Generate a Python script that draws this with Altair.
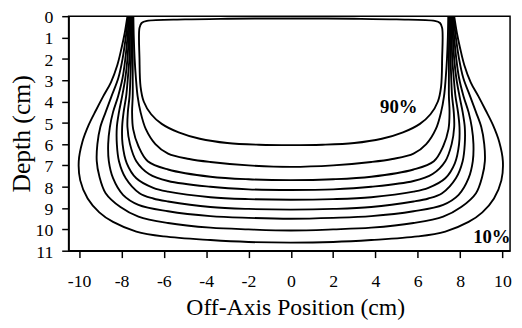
import altair as alt
import pandas as pd

# Isodose levels
levels = ["10%", "20%", "30%", "40%", "50%", "60%", "70%", "80%", "90%"]

# Left half of each isodose line (off-axis position cm, depth cm),
# running from the top of the field to the central axis. The right half is the mirror image.
c10_x = [-7.72, -7.85, -8.0, -8.2, -8.5, -8.86, -9.2, -9.55, -9.85, -10.02, -9.95, -9.6, -9.05, -8.4, -7.3, -6.0, -3.8, -2.0, 0.0]
c10_d = [0.0, 0.8, 1.5, 2.3, 3.1, 3.75, 4.4, 5.1, 5.9, 6.8, 7.7, 8.55, 9.2, 9.65, 10.1, 10.33, 10.5, 10.59, 10.62]

c20_x = [-7.68, -7.8, -7.95, -8.15, -8.47, -8.75, -9.0, -9.14, -9.17, -9.05, -8.75, -8.05, -7.2, -5.8, -3.8, -2.0, 0.0]
c20_d = [0.0, 1.0, 2.0, 2.9, 3.75, 4.5, 5.2, 6.0, 6.8, 7.5, 8.3, 8.95, 9.4, 9.7, 9.92, 10.0, 10.05]

c30_x = [-7.64, -7.72, -7.82, -7.95, -8.16, -8.4, -8.55, -8.63, -8.6, -8.4, -7.93, -7.2, -5.8, -3.8, -2.0, 0.0]
c30_d = [0.0, 1.0, 2.0, 2.9, 3.75, 4.5, 5.2, 6.0, 6.8, 7.6, 8.38, 8.85, 9.15, 9.38, 9.46, 9.5]

c40_x = [-7.6, -7.66, -7.72, -7.82, -7.97, -8.12, -8.22, -8.22, -8.12, -7.8, -7.15, -6.5, -5.8, -3.8, -2.0, 0.0]
c40_d = [0.0, 1.0, 2.0, 2.9, 3.75, 4.5, 5.2, 6.0, 6.8, 7.6, 8.3, 8.55, 8.69, 8.95, 9.04, 9.07]

c50_x = [-7.57, -7.6, -7.63, -7.7, -7.78, -7.9, -7.97, -7.95, -7.75, -7.3, -6.5, -5.8, -3.8, -2.0, 0.0]
c50_d = [0.0, 1.0, 2.0, 2.9, 3.75, 4.5, 5.2, 6.0, 6.9, 7.6, 8.05, 8.23, 8.49, 8.58, 8.61]

c60_x = [-7.53, -7.54, -7.55, -7.58, -7.62, -7.7, -7.72, -7.6, -7.3, -6.7, -5.8, -3.8, -2.0, 0.0]
c60_d = [0.0, 1.0, 2.0, 2.9, 3.75, 4.5, 5.2, 6.0, 6.8, 7.4, 7.73, 8.0, 8.12, 8.15]

c70_x = [-7.49, -7.48, -7.47, -7.47, -7.47, -7.5, -7.45, -7.2, -6.76, -5.8, -3.8, -2.0, 0.0]
c70_d = [0.0, 1.0, 2.0, 2.9, 3.75, 4.5, 5.3, 6.1, 6.8, 7.19, 7.53, 7.65, 7.69]

c80_x = [-7.44, -7.42, -7.38, -7.32, -7.24, -7.1, -6.85, -6.4, -5.8, -4.8, -3.8, -2.0, 0.0]
c80_d = [0.0, 1.0, 2.0, 2.9, 3.75, 4.5, 5.3, 6.0, 6.45, 6.7, 6.84, 7.0, 7.07]

# 90% line is closed: starts on the axis just under the surface
c90_x = [0.0, -3.0, -5.0, -6.8, -7.05, -7.15, -7.15, -7.1, -6.95, -6.6, -6.1, -5.3, -4.3, -3.0, -1.5, 0.0]
c90_d = [0.1, 0.12, 0.15, 0.22, 0.32, 0.55, 2.0, 3.3, 4.0, 4.6, 5.05, 5.45, 5.75, 5.95, 6.03, 6.05]

half_x = [c10_x, c20_x, c30_x, c40_x, c50_x, c60_x, c70_x, c80_x, c90_x]
half_d = [c10_d, c20_d, c30_d, c40_d, c50_d, c60_d, c70_d, c80_d, c90_d]

# Annotations
label_text = ["90%", "10%"]
label_x = [5.1, 9.5]
label_d = [4.25, 10.37]

x_ticks = [-10, -8, -6, -4, -2, 0, 2, 4, 6, 8, 10]
y_ticks = [0, 1, 2, 3, 4, 5, 6, 7, 8, 9, 10, 11]

rows = []
for lev, xs, ds in zip(levels, half_x, half_d):
    pts = list(zip(xs, ds))
    full = pts + [(-x, d) for x, d in reversed(pts[:-1])]
    for i, (x, d) in enumerate(full):
        rows.append({"level": lev, "i": i, "x": x, "depth": d})
df = pd.DataFrame(rows)
lab = pd.DataFrame({"text": label_text, "x": label_x, "depth": label_d})

FONT = "Liberation Serif"

xscale = alt.Scale(domain=[-10.5, 10.36], nice=False, zero=False)
yscale = alt.Scale(domain=[0, 11], reverse=True, nice=False, zero=False)

xaxis = alt.Axis(
    values=x_ticks, labelExpr="'' + datum.value", title="Off-Axis Position (cm)",
    grid=False, tickSize=7, labelPadding=15, labelFontSize=18, labelFont=FONT,
    labelOverlap=False, labelFlush=False,
    titleFont=FONT, titleFontSize=24, titleFontWeight="normal",
    titleX=230, titleY=65, titleBaseline="alphabetic", titleAlign="center",
)
yaxis = alt.Axis(
    values=y_ticks, labelExpr="'' + datum.value", title="Depth (cm)",
    grid=False, tickSize=7, labelPadding=9, labelFontSize=18, labelFont=FONT,
    labelOverlap=False, labelFlush=False, labelOffset=1.5,
    titleFont=FONT, titleFontSize=26, titleFontWeight="normal",
    titleX=-48, titleY=119, titleAngle=270, titleAlign="center", titleBaseline="middle",
)

lines = alt.Chart(df).mark_line(
    color="black", strokeWidth=1.9, interpolate="catmull-rom"
).encode(
    x=alt.X("x:Q", scale=xscale, axis=xaxis),
    y=alt.Y("depth:Q", scale=yscale, axis=yaxis),
    detail="level:N",
    order="i:Q",
)

texts = alt.Chart(lab).mark_text(
    font=FONT, fontSize=19, fontWeight="bold", color="black", align="center", baseline="middle"
).encode(
    x=alt.X("x:Q", scale=xscale, axis=xaxis),
    y=alt.Y("depth:Q", scale=yscale, axis=yaxis),
    text="text:N",
)

chart = alt.layer(lines, texts).properties(
    width=448, height=238,
    autosize=alt.AutoSizeParams(type="none"),
    padding={"left": 61.5, "top": 6, "right": 4, "bottom": 68},
    background="white",
).configure_view(
    stroke="black", strokeWidth=1.5
).configure_axis(
    domainColor="black", domainWidth=1.5, tickColor="black", tickWidth=1.5,
    labelColor="black", titleColor="black",
)

chart.save("out.html", embed_options={"renderer": "svg", "actions": False})
